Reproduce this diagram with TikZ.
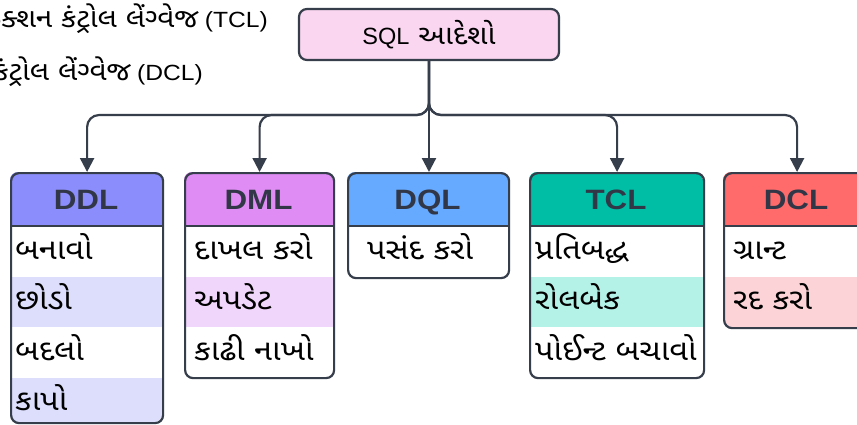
\documentclass[tikz,border=0pt]{standalone}
\usepackage{fontspec}
\usetikzlibrary{arrows.meta}
\newfontfamily\guj[Script=Gujarati,FakeStretch=1.12]{Noto Sans Gujarati UI}
\newfontfamily\lat[FakeStretch=1.12]{Liberation Sans}
\newfontfamily\latn{Liberation Sans}
\definecolor{bord}{RGB}{55,62,75}
\definecolor{hdrtxt}{RGB}{50,55,72}
\definecolor{sqlfill}{RGB}{250,214,240}
\definecolor{ddlh}{RGB}{140,141,252}
\definecolor{ddla}{RGB}{220,222,252}
\definecolor{dmlh}{RGB}{224,140,245}
\definecolor{dmla}{RGB}{240,214,250}
\definecolor{dqlh}{RGB}{102,170,255}
\definecolor{dqla}{RGB}{235,243,255}
\definecolor{tclh}{RGB}{0,190,165}
\definecolor{tcla}{RGB}{180,242,232}
\definecolor{dclh}{RGB}{255,107,107}
\definecolor{dcla}{RGB}{252,212,216}
\tikzset{
  boxline/.style={draw=bord, line width=2.2pt, rounded corners=8pt, inner sep=0pt},
  rowtext/.style={font=\guj\fontsize{29}{32}\selectfont, text=black, inner sep=0pt, anchor=base west},
  hdrtext/.style={font=\lat\bfseries\fontsize{28}{30}\selectfont, text=hdrtxt, inner sep=0pt,
                  text height=20pt, text depth=0pt},
  legend/.style={font=\guj\fontsize{26.5}{30}\selectfont, text=black, inner sep=0pt, anchor=base east},
  conn/.style={draw=bord, line width=2.2pt, rounded corners=12pt, -{Triangle[length=14pt,width=14pt]}}
}
% #1 name, #2 x1, #3 x2, #4 bottom, #5 header colour, #6 alt colour, #7 title, #8 text pad, #9 rows
\newcommand\erbox[9]{%
  \begin{scope}
    \clip[rounded corners=8pt] (#2,172) rectangle (#3,#4);
    \fill[#5] (#2,172) rectangle (#3,226);
    \foreach \t [count=\i from 0] in {#9} {%
      \pgfmathsetmacro\ya{226+50.5*\i}%
      \pgfmathsetmacro\yb{226+50.5*(\i+1)}%
      \ifodd\i \fill[#6] (#2,\ya) rectangle (#3,\yb);\fi
    }
  \end{scope}
  \foreach \t [count=\i from 0] in {#9} {%
    \pgfmathsetmacro\ym{226+50.5*\i+33}%
    \node[rowtext] (#1-\i) at (#2+#8,\ym) {\t};
  }
  \draw[draw=bord, line width=2.2pt] (#2,226) -- (#3,226);
  \pgfmathsetmacro\bw{#3-#2}%
  \pgfmathsetmacro\bh{#4-172}%
  \node[boxline, minimum width=\bw pt, minimum height=\bh pt, anchor=north west] (#1) at (#2,172) {};
  \node[hdrtext] (#1-title) at ({(#2+#3)/2},199) {#7};
}
\begin{document}
\begin{tikzpicture}[x=1pt,y=-1pt]
\useasboundingbox (0,0) rectangle (857,424);
\fill[white] (0,0) rectangle (857,424);

\node[legend] (leg1) at (268,27) {ટ્રાન્ઝેક્શન કંટ્રોલ લેંગ્વેજ\hspace{6pt}{\lat\fontsize{22}{24}\selectfont(TCL)}};
\node[legend] (leg2) at (203,80) {ડેટા કંટ્રોલ લેંગ્વેજ\hspace{6pt}{\lat\fontsize{22}{24}\selectfont(DCL)}};

\node[draw=bord, line width=2.2pt, rounded corners=8pt, fill=sqlfill,
      minimum width=260pt, minimum height=51pt, inner sep=0pt, text height=19pt, text depth=0pt]
      (sql) at (429,34.5) {{\latn\fontsize{23.5}{26}\selectfont SQL}\hspace{9pt}{\guj\fontsize{27}{28}\selectfont આદેશો}};

\erbox{ddl}{10}{162}{422}{ddlh}{ddla}{DDL}{5}{બનાવો,છોડો,બદલો,કાપો}
\erbox{dml}{184}{333}{377}{dmlh}{dmla}{DML}{10}{દાખલ કરો,અપડેટ,કાઢી નાખો}
\erbox{dql}{347}{508}{277}{dqlh}{dqla}{DQL}{20}{પસંદ કરો}
\erbox{tcl}{529}{703}{377}{tclh}{tcla}{TCL}{6}{પ્રતિબદ્ધ,રોલબેક,પોઈન્ટ બચાવો}
\erbox{dcl}{723}{869}{327}{dclh}{dcla}{DCL}{10}{ગ્રાન્ટ,રદ કરો}

\coordinate (j) at (428,115);
\draw[conn] (sql.south) -- (sql.south |- j) -| (ddl.north);
\draw[conn] (sql.south) -- (sql.south |- j) -| (dml.north);
\draw[conn] (sql.south) -- (sql.south |- dql.north);
\draw[conn] (sql.south) -- (sql.south |- j) -| (tcl.north);
\draw[conn] (sql.south) -- (sql.south |- j) -| (dcl.north);
\end{tikzpicture}
\end{document}
